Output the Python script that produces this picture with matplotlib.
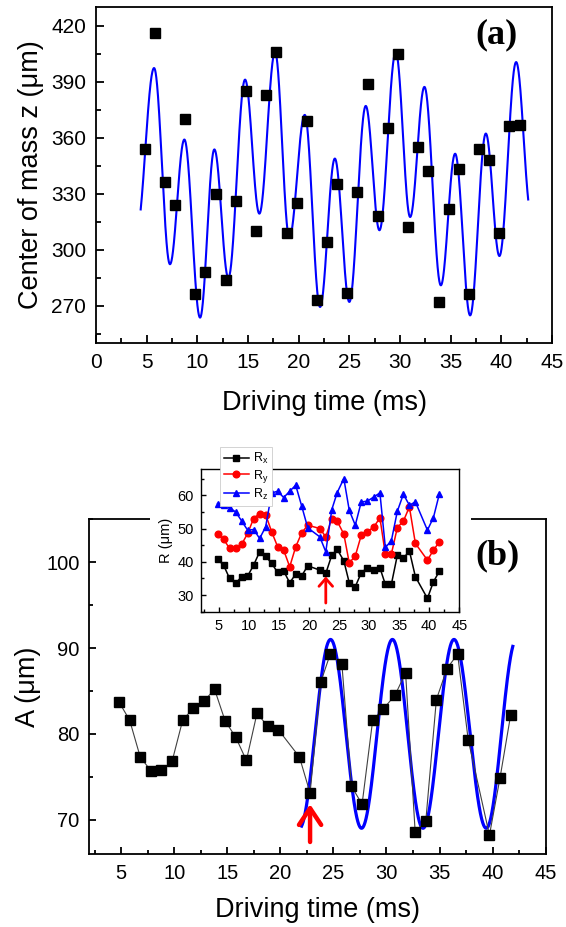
import numpy as np
import matplotlib
matplotlib.use("Agg")
import matplotlib.pyplot as plt
from matplotlib.ticker import MultipleLocator
from matplotlib.patches import Rectangle

plt.rcParams['font.family'] = ['Liberation Sans', 'DejaVu Sans']
plt.rcParams['mathtext.fontset'] = 'custom'
plt.rcParams['mathtext.rm'] = 'Liberation Sans'
plt.rcParams['mathtext.it'] = 'Liberation Sans:italic'

# ---------------- data: panel (a) ----------------
time_a = [4.8, 5.8, 6.8, 7.8, 8.8, 9.8, 10.8, 11.8, 12.8, 13.8, 14.8, 15.8, 16.8,
          17.8, 18.8, 19.8, 20.8, 21.8, 22.8, 23.8, 24.8, 25.8, 26.8, 27.8, 28.8,
          29.8, 30.8, 31.8, 32.8, 33.8, 34.8, 35.8, 36.8, 37.8, 38.8, 39.8, 40.8, 41.8]
com_z = [354, 416, 336, 324, 370, 276, 288, 330, 284, 326, 385, 310, 383,
         406, 309, 325, 369, 273, 304, 335, 277, 331, 389, 318, 365,
         405, 312, 355, 342, 272, 322, 343, 276, 354, 348, 309, 366, 367]
# fitted curve (a): extrema, drawn range
fit_a_t = [4.0, 5.73, 7.3, 8.72, 10.27, 11.68, 13.06, 14.71, 16.12, 17.67, 19.08,
           20.6, 22.11, 23.57, 25.0, 26.62, 27.97, 29.58, 31.0, 32.41, 34.03,
           35.44, 36.92, 38.47, 39.81, 41.46, 42.95]
fit_a_y = [310, 397.3, 292.2, 359, 263.6, 353.7, 284.9, 391.1, 319.3, 405.9, 306.4,
           372.2, 269.3, 348.8, 272, 377, 310.4, 405.9, 317.5, 387.2, 280.9,
           351.4, 264.8, 362.2, 296.6, 400.5, 319]
fit_a_range = [4.41, 42.65]

# ---------------- data: panel (b) ----------------
time_b = [4.8, 5.8, 6.8, 7.8, 8.8, 9.8, 10.8, 11.8, 12.8, 13.8, 14.8, 15.8, 16.8,
          17.8, 18.8, 19.8, 21.8, 22.8, 23.8, 24.7, 25.8, 26.7, 27.7, 28.7, 29.7,
          30.8, 31.8, 32.7, 33.7, 34.7, 35.7, 36.7, 37.7, 39.7, 40.7, 41.7]
amp_A = [83.7, 81.6, 77.3, 75.7, 75.8, 76.8, 81.6, 83.0, 83.8, 85.2, 81.5, 79.6, 76.9,
         82.4, 80.9, 80.5, 77.3, 73.1, 86.0, 89.3, 88.1, 73.9, 71.8, 81.6, 82.9,
         84.5, 87.1, 68.6, 69.8, 84.0, 87.6, 89.3, 79.3, 68.2, 74.9, 82.2]
fit_b_t = [21.8, 24.73, 27.65, 30.56, 33.44, 36.36, 39.4, 42.25]
fit_b_y = [69.0, 91.0, 69.0, 91.0, 69.0, 91.0, 69.0, 91.0]
fit_b_range = [22.0, 41.9]

# inset
R_x = [40.8, 39.0, 35.0, 33.5, 35.5, 35.7, 39.0, 43.0, 41.7, 39.5, 36.8, 37.2, 33.7,
       36.3, 35.8, 38.8, 37.5, 36.5, 42.0, 43.7, 40.3, 33.7, 32.5, 36.7, 38.2,
       37.5, 38.2, 33.2, 33.2, 42.0, 41.0, 43.3, 35.5, 29.0, 34.0, 37.2]
R_y = [48.2, 46.8, 44.0, 44.0, 45.2, 48.5, 53.0, 54.5, 54.2, 49.0, 44.5, 43.5, 38.5,
       44.5, 48.7, 51.0, 50.0, 47.5, 53.0, 52.2, 48.3, 39.7, 41.7, 48.0, 49.0,
       50.5, 53.2, 42.3, 42.3, 50.3, 52.2, 56.5, 45.5, 40.5, 43.5, 46.0]
R_z = [57.5, 57.2, 56.2, 55.0, 52.3, 49.5, 49.7, 47.0, 50.5, 60.7, 61.2, 59.3, 61.2,
       63.0, 56.7, 50.2, 47.5, 43.0, 55.7, 60.8, 65.0, 55.5, 51.0, 58.0, 58.2,
       59.5, 60.7, 44.3, 46.3, 55.2, 60.3, 57.0, 58.0, 49.5, 53.3, 60.5]
arrow_time = 22.8


def curve_through_extrema(tx, ty, rng, n=3000):
    tx = np.asarray(tx, float)
    ty = np.asarray(ty, float)
    t = np.linspace(rng[0], rng[1], n)
    i = np.clip(np.searchsorted(tx, t) - 1, 0, len(tx) - 2)
    s = (t - tx[i]) / (tx[i + 1] - tx[i])
    y = ty[i] + (ty[i + 1] - ty[i]) * (1 - np.cos(np.pi * s)) / 2
    return t, y


W, H = 566, 927
fig = plt.figure(figsize=(W / 100, H / 100), dpi=100)


def fx(px):
    return px / W


def fy(py):
    return 1 - py / H


def style_axes(ax, lw, maj, mino, fs, pad):
    for sp in ax.spines.values():
        sp.set_linewidth(lw)
    ax.tick_params(which='both', direction='in', top=False, right=False,
                   width=lw, labelsize=fs, pad=pad)
    ax.tick_params(which='major', length=maj)
    ax.tick_params(which='minor', length=mino)


# ---------------- panel (a) ----------------
axa = fig.add_axes([fx(96), fy(343), fx(552) - fx(96), fy(7) - fy(343)])
ta, ya = curve_through_extrema(fit_a_t, fit_a_y, fit_a_range)
axa.plot(ta, ya, color='#0000ff', lw=1.5, zorder=2)
axa.plot(time_a, com_z, ls='none', marker='s', ms=7.5, color='black', zorder=3)
axa.set_xlim(0, 45)
axa.set_ylim(250, 430)
axa.xaxis.set_major_locator(MultipleLocator(5))
axa.xaxis.set_minor_locator(MultipleLocator(2.5))
axa.yaxis.set_major_locator(MultipleLocator(30))
axa.set_yticks(np.arange(255, 430, 30), minor=True)
style_axes(axa, 1.3, 5.5, 3.5, 15, 7)
axa.set_xlabel('Driving time (ms)', fontsize=19.5, labelpad=13)
axa.set_ylabel('Center of mass z (\u03bcm)', fontsize=19.5, labelpad=5)
axa.text(0.879, 0.917, '(a)', transform=axa.transAxes, ha='center', va='center',
         fontsize=26, fontweight='bold', family='Liberation Serif')

# ---------------- panel (b) ----------------
axb = fig.add_axes([fx(89.3), fy(854), fx(545.7) - fx(89.3), fy(519.3) - fy(854)])
axb.plot(time_b, amp_A, color='#404040', lw=0.8, marker='s', ms=7.5,
         mfc='black', mec='black', zorder=3)
tb, yb = curve_through_extrema(fit_b_t, fit_b_y, fit_b_range)
axb.plot(tb, yb, color='#0000ff', lw=2.3, zorder=2)
axb.set_xlim(2, 45)
axb.set_ylim(66, 105)
axb.xaxis.set_major_locator(MultipleLocator(5))
axb.xaxis.set_minor_locator(MultipleLocator(2.5))
axb.yaxis.set_major_locator(MultipleLocator(10))
axb.yaxis.set_minor_locator(MultipleLocator(5))
style_axes(axb, 1.3, 5, 3, 14.5, 7)
axb.set_xlabel('Driving time (ms)', fontsize=19.5, labelpad=10)
axb.set_ylabel('A (\u03bcm)', fontsize=19.5, labelpad=4)
axb.annotate('', xy=(arrow_time, 71.8), xytext=(arrow_time, 67.4),
             arrowprops=dict(arrowstyle='->,head_length=0.6,head_width=0.4',
                             color='red', lw=3.2, mutation_scale=20,
                             shrinkA=0, shrinkB=0), annotation_clip=False)
axb.text(0.895, 0.89, '(b)', transform=axb.transAxes, ha='center', va='center',
         fontsize=26, fontweight='bold', family='Liberation Serif')
# white block hiding the top frame behind the inset
axb.add_patch(Rectangle((fx(150), fy(532)), fx(471) - fx(150), fy(440) - fy(532),
                        transform=fig.transFigure, facecolor='white',
                        edgecolor='none', clip_on=False, zorder=10))

# ---------------- inset ----------------
axi = fig.add_axes([fx(200.7), fy(611.7), fx(459.3) - fx(200.7), fy(468.6) - fy(611.7)])
axi.plot(time_b, R_x, color='black', lw=1.1, marker='s', ms=4, label='$\\mathregular{R_x}$')
axi.plot(time_b, R_y, color='#ff0000', lw=1.1, marker='o', ms=4.8, label='$\\mathregular{R_y}$')
axi.plot(time_b, R_z, color='#0000ff', lw=1.1, marker='^', ms=5, label='$\\mathregular{R_z}$')
axi.annotate('', xy=(arrow_time, 35.6), xytext=(arrow_time, 27.6),
             arrowprops=dict(arrowstyle='->,head_length=0.4,head_width=0.35',
                             color='red', lw=2, mutation_scale=14,
                             shrinkA=0, shrinkB=0))
axi.set_xlim(2, 45)
axi.set_ylim(25, 68)
axi.xaxis.set_major_locator(MultipleLocator(5))
axi.xaxis.set_minor_locator(MultipleLocator(2.5))
axi.yaxis.set_major_locator(MultipleLocator(10))
axi.yaxis.set_minor_locator(MultipleLocator(5))
style_axes(axi, 1.0, 3.5, 2, 10.5, 5)
axi.set_ylabel('R (\u03bcm)', fontsize=10.5, labelpad=3)
leg = axi.legend(loc='upper left', bbox_to_anchor=(0.075, 1.15), fontsize=9,
                 frameon=True, fancybox=False, framealpha=1, edgecolor='#cccccc',
                 handlelength=2.0, handletextpad=0.3, borderpad=0.3,
                 labelspacing=0.15, borderaxespad=0)
leg.get_frame().set_linewidth(0.6)

fig.savefig('out.png', dpi=100)
